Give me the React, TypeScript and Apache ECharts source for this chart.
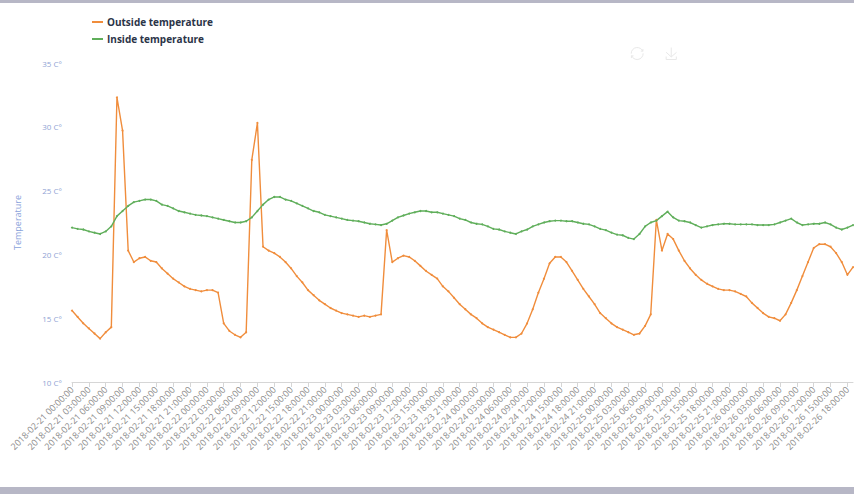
import React, { useEffect, useRef } from "react";
import * as echarts from "echarts";

const startTime = "2018-02-21 00:00:00";
const stepHours = 1;

const outsideTemperature = [
  15.6, 15.1, 14.6, 14.2, 13.8, 13.4, 13.9, 14.3, 32.3, 29.7,
  20.3, 19.4, 19.7, 19.8, 19.5, 19.4, 18.9, 18.5, 18.1, 17.8,
  17.5, 17.3, 17.2, 17.1, 17.2, 17.2, 17.0, 14.6, 14.0, 13.7,
  13.5, 13.9, 27.4, 30.3, 20.6, 20.3, 20.1, 19.8, 19.4, 18.9,
  18.3, 17.8, 17.2, 16.8, 16.4, 16.1, 15.8, 15.6, 15.4, 15.3,
  15.2, 15.1, 15.2, 15.1, 15.2, 15.3, 21.9, 19.4, 19.7, 19.9,
  19.8, 19.5, 19.1, 18.7, 18.4, 18.1, 17.5, 17.1, 16.6, 16.1,
  15.7, 15.3, 15.0, 14.6, 14.3, 14.1, 13.9, 13.7, 13.5, 13.5,
  13.8, 14.6, 15.7, 17.0, 18.1, 19.3, 19.8, 19.8, 19.4, 18.7,
  18.0, 17.3, 16.7, 16.1, 15.4, 15.0, 14.6, 14.3, 14.1, 13.9,
  13.7, 13.8, 14.4, 15.3, 22.7, 20.3, 21.6, 21.2, 20.3, 19.5,
  18.9, 18.4, 18.0, 17.7, 17.5, 17.3, 17.2, 17.2, 17.1, 16.9,
  16.7, 16.2, 15.8, 15.4, 15.1, 15.0, 14.8, 15.3, 16.2, 17.2,
  18.3, 19.4, 20.5, 20.8, 20.8, 20.6, 20.1, 19.4, 18.4, 19.0,
];

const insideTemperature = [
  22.1, 22.0, 21.95, 21.8, 21.7, 21.6, 21.8, 22.2, 23.0, 23.4,
  23.8, 24.1, 24.2, 24.3, 24.3, 24.2, 23.9, 23.8, 23.6, 23.4,
  23.3, 23.2, 23.1, 23.05, 23.0, 22.9, 22.8, 22.7, 22.6, 22.5,
  22.5, 22.6, 22.9, 23.4, 23.9, 24.3, 24.5, 24.5, 24.3, 24.2,
  24.0, 23.8, 23.6, 23.4, 23.3, 23.1, 23.0, 22.9, 22.8, 22.7,
  22.65, 22.6, 22.5, 22.4, 22.35, 22.3, 22.4, 22.65, 22.9, 23.05,
  23.2, 23.3, 23.4, 23.4, 23.3, 23.3, 23.2, 23.1, 23.0, 22.8,
  22.7, 22.5, 22.4, 22.35, 22.2, 22.0, 21.95, 21.8, 21.7, 21.6,
  21.8, 21.95, 22.2, 22.35, 22.5, 22.6, 22.65, 22.65, 22.6, 22.6,
  22.5, 22.4, 22.35, 22.2, 22.0, 21.9, 21.7, 21.55, 21.5, 21.3,
  21.2, 21.6, 22.2, 22.5, 22.65, 23.0, 23.35, 22.9, 22.65, 22.6,
  22.5, 22.3, 22.1, 22.2, 22.3, 22.35, 22.4, 22.4, 22.35, 22.35,
  22.35, 22.35, 22.3, 22.3, 22.3, 22.35, 22.5, 22.65, 22.8, 22.5,
  22.3, 22.35, 22.4, 22.4, 22.5, 22.35, 22.1, 21.95, 22.1, 22.3,
];

const seriesNames = ["Outside temperature", "Inside temperature"];
const yTicks = { min: 10, max: 35, interval: 5 };

function pad(n: number) {
  return n < 10 ? "0" + n : "" + n;
}

function buildCategories(count: number): string[] {
  const base = new Date(startTime.replace(" ", "T") + "Z").getTime();
  const out: string[] = [];
  for (let i = 0; i < count; i++) {
    const d = new Date(base + i * stepHours * 3600 * 1000);
    out.push(
      `${d.getUTCFullYear()}-${pad(d.getUTCMonth() + 1)}-${pad(d.getUTCDate())} ${pad(
        d.getUTCHours()
      )}:${pad(d.getUTCMinutes())}:00`
    );
  }
  return out;
}

export default function App() {
  const ref = useRef<HTMLDivElement>(null);

  useEffect(() => {
    if (!ref.current) return;
    const chart = echarts.init(ref.current, undefined, { renderer: "svg" });
    const categories = buildCategories(outsideTemperature.length);
    chart.setOption({
      animation: false,
      backgroundColor: "#ffffff",
      textStyle: { fontFamily: "Open Sans, sans-serif" },
      graphic: [
        { type: "rect", left: 0, top: 0, shape: { width: 854, height: 3 }, style: { fill: "#b7b7c6" } },
        { type: "rect", left: 0, top: 487, shape: { width: 854, height: 7 }, style: { fill: "#b7b7c6" } },
      ],
      toolbox: {
        right: 160,
        top: 30,
        itemSize: 12,
        itemGap: 18,
        iconStyle: { borderColor: "#e8e8e8" },
        feature: { restore: {}, saveAsImage: {} },
      },
      legend: {
        data: seriesNames,
        orient: "vertical",
        left: 87,
        top: 12,
        icon: "rect",
        itemWidth: 11,
        itemHeight: 2,
        itemGap: 7,
        textStyle: { fontSize: 10, fontWeight: "bold", color: "#2b3448", padding: [0, 0, 0, -1] },
      },
      grid: { left: 72, right: 1, top: 63, bottom: 112, containLabel: false },
      xAxis: {
        type: "category",
        boundaryGap: false,
        data: categories,
        axisLine: { lineStyle: { color: "#d6d6d6" } },
        axisTick: { interval: 2, lineStyle: { color: "#d6d6d6" } },
        axisLabel: {
          interval: 2,
          rotate: 45,
          fontSize: 9,
          color: "#8c8c8c",
          margin: 6,
        },
      },
      yAxis: {
        type: "value",
        min: yTicks.min,
        max: yTicks.max,
        interval: yTicks.interval,
        name: "Temperature",
        nameLocation: "middle",
        nameGap: 50,
        nameTextStyle: { color: "#8aa3db", fontSize: 9 },
        axisLine: { show: false },
        axisTick: { show: false },
        splitLine: { show: false },
        axisLabel: { formatter: "{value} C°", color: "#8fa3d4", fontSize: 8, margin: 10 },
      },
      series: [
        {
          name: seriesNames[0],
          type: "line",
          data: outsideTemperature,
          symbol: "circle",
          symbolSize: 2,
          showSymbol: true,
          itemStyle: { color: "#f08d3c" },
          lineStyle: { width: 1.4, color: "#f08d3c" },
        },
        {
          name: seriesNames[1],
          type: "line",
          data: insideTemperature,
          symbol: "circle",
          symbolSize: 2,
          showSymbol: true,
          itemStyle: { color: "#5fae5a" },
          lineStyle: { width: 1.4, color: "#5fae5a" },
        },
      ],
    });
    return () => chart.dispose();
  }, []);

  return (
    <div
      ref={ref}
      style={{ position: "fixed", left: 0, top: 0, width: 854, height: 494 }}
    />
  );
}
